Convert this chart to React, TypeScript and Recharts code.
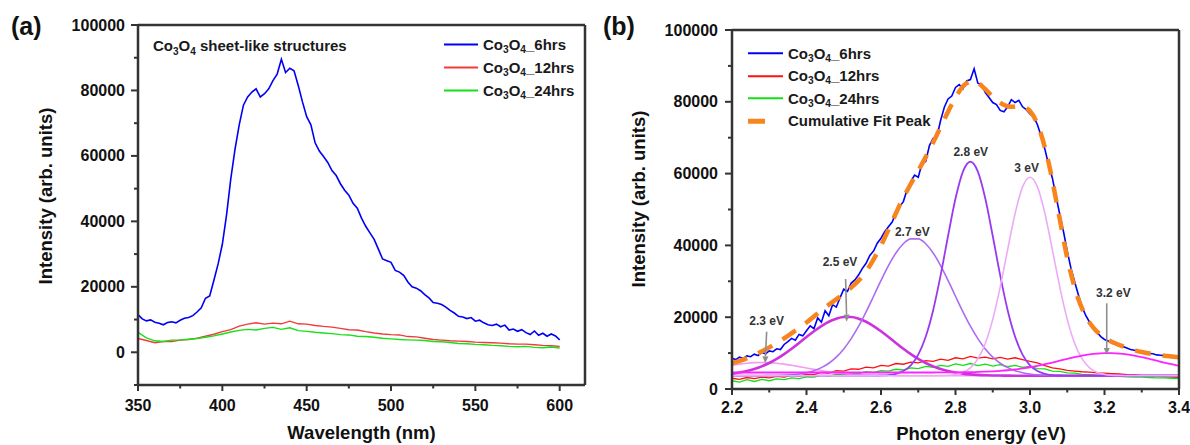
import { LineChart, Line, XAxis, YAxis, ReferenceDot, ReferenceLine, Legend } from 'recharts';

const FONT = '"Liberation Sans", Arial, Helvetica, sans-serif';
const INK = '#333333';

// ---------- panel (a): PL spectra vs wavelength ----------
const wlFine = [
  350, 352.5, 355, 357.5, 360, 362.5, 365, 367.5, 370, 372.5,
  375, 377.5, 380, 382.5, 385, 387.5, 390, 392.5, 395, 397.5,
  400, 402.5, 405, 407.5, 410, 412.5, 415, 417.5, 420, 422.5,
  425, 427.5, 430, 432.5, 435, 437.5, 440, 442.5, 445, 447.5,
  450, 452.5, 455, 457.5, 460, 462.5, 465, 467.5, 470, 472.5,
  475, 477.5, 480, 482.5, 485, 487.5, 490, 492.5, 495, 497.5,
  500, 502.5, 505, 507.5, 510, 512.5, 515, 517.5, 520, 522.5,
  525, 527.5, 530, 532.5, 535, 537.5, 540, 542.5, 545, 547.5,
  550, 552.5, 555, 557.5, 560, 562.5, 565, 567.5, 570, 572.5,
  575, 577.5, 580, 582.5, 585, 587.5, 590, 592.5, 595, 597.5,
  600,
];
const pl6hrs = [
  11500, 10200, 9600, 9900, 9200, 8900, 8400, 9100, 9300, 9000,
  9800, 10400, 10600, 11200, 12300, 13600, 16500, 17200, 22000, 27000,
  33000, 42000, 53000, 62000, 69500, 75500, 78000, 79500, 80500, 78000,
  79000, 80500, 83000, 85000, 89500, 85500, 86800, 86000, 81500, 76500,
  72000, 69500, 64000, 61500, 59800, 58000, 55500, 54000, 51500, 49500,
  48000, 45500, 44000, 41000, 38500, 36500, 34500, 31500, 28500, 28000,
  27500, 25000, 24500, 23500, 21500, 20000, 19600, 18800, 17600, 16600,
  15200, 15000, 14600, 13800, 12800, 12000, 11000, 10800, 10300, 10600,
  9500, 9800, 9000, 8400, 8200, 8600, 7800, 8300, 6800, 7100,
  6400, 6900, 6000, 5400, 6500, 5200, 5800, 4900, 5600, 5000,
  3800,
];
const wlCoarse = [
  350, 355, 360, 365, 370, 375, 380, 385, 390, 395,
  400, 405, 410, 415, 420, 425, 430, 435, 440, 445,
  450, 455, 460, 465, 470, 475, 480, 485, 490, 495,
  500, 505, 510, 515, 520, 525, 530, 535, 540, 545,
  550, 555, 560, 565, 570, 575, 580, 585, 590, 595,
  600,
];
const pl12hrs = [
  4200, 3600, 2900, 3300, 3300, 3700, 3900, 4300, 4900, 5500,
  6300, 6900, 8000, 8600, 9000, 8600, 8900, 8700, 9500, 8700,
  8600, 8200, 7900, 7700, 7300, 6900, 6800, 6300, 5900, 5600,
  5400, 5300, 4800, 4700, 4300, 3900, 3700, 3500, 3400, 3300,
  3100, 3000, 2900, 2800, 2600, 2500, 2500, 2300, 2100, 2000,
  1800,
];
const pl24hrs = [
  6100, 4400, 3500, 3300, 3700, 3800, 4000, 4200, 4600, 5000,
  5600, 6200, 6700, 7000, 6800, 7300, 7600, 7000, 7500, 6600,
  6400, 6100, 5900, 5700, 5400, 5300, 4900, 4800, 4600, 4300,
  4100, 3900, 3800, 3700, 3600, 3300, 3200, 3000, 2700, 2600,
  2400, 2300, 2100, 2000, 1800, 1700, 1800, 1500, 1400, 1600,
  1300,
];

// ---------- panel (b): photon energy + gaussian deconvolution ----------
const evFine = [
  2.2, 2.21, 2.22, 2.23, 2.24, 2.25, 2.26, 2.27, 2.28, 2.29,
  2.3, 2.31, 2.32, 2.33, 2.34, 2.35, 2.36, 2.37, 2.38, 2.39,
  2.4, 2.41, 2.42, 2.43, 2.44, 2.45, 2.46, 2.47, 2.48, 2.49,
  2.5, 2.51, 2.52, 2.53, 2.54, 2.55, 2.56, 2.57, 2.58, 2.59,
  2.6, 2.61, 2.62, 2.63, 2.64, 2.65, 2.66, 2.67, 2.68, 2.69,
  2.7, 2.71, 2.72, 2.73, 2.74, 2.75, 2.76, 2.77, 2.78, 2.79,
  2.8, 2.81, 2.82, 2.83, 2.84, 2.85, 2.86, 2.87, 2.88, 2.89,
  2.9, 2.91, 2.92, 2.93, 2.94, 2.95, 2.96, 2.97, 2.98, 2.99,
  3.0, 3.01, 3.02, 3.03, 3.04, 3.05, 3.06, 3.07, 3.08, 3.09,
  3.1, 3.11, 3.12, 3.13, 3.14, 3.15, 3.16, 3.17, 3.18, 3.19,
  3.2, 3.21, 3.22, 3.23, 3.24, 3.25, 3.26, 3.27, 3.28, 3.29,
  3.3, 3.31, 3.32, 3.33, 3.34, 3.35, 3.36, 3.37, 3.38, 3.39,
  3.4,
];
const ev6hrs = [
  8600, 8200, 8900, 8500, 9200, 9000, 9700, 9300, 10200, 9800,
  10600, 10400, 11200, 11000, 12400, 13200, 14100, 13600, 15200, 14800,
  16200, 17600, 16800, 19800, 18600, 21800, 20400, 23500, 22800, 25400,
  27800, 27200, 29500, 30400, 31800, 33600, 35000, 37200, 38400, 40600,
  42000, 43800, 45200, 46500, 49000, 50800, 52200, 55500, 57800, 59600,
  59000, 62800, 63400, 67800, 69800, 70200, 74800, 78500, 80800, 81600,
  84000, 84800, 83600, 85800, 86200, 89200, 85200, 84800, 82600, 81200,
  79800, 79200, 77600, 77200, 78600, 80600, 79800, 80400, 78600, 77800,
  76600, 75800, 73600, 70400, 66800, 62400, 58800, 53600, 48600, 43800,
  38400, 33600, 29800, 26200, 22800, 20400, 18600, 16800, 15800, 14600,
  13800, 13400, 12800, 12400, 11900, 11800, 11400, 11000, 10800, 10600,
  10200, 10000, 9900, 9800, 9500, 9400, 9300, 9200, 9000, 9000,
  8900,
];
const evCoarse = [
  2.2, 2.22, 2.24, 2.26, 2.28, 2.3, 2.32, 2.34, 2.36, 2.38,
  2.4, 2.42, 2.44, 2.46, 2.48, 2.5, 2.52, 2.54, 2.56, 2.58,
  2.6, 2.62, 2.64, 2.66, 2.68, 2.7, 2.72, 2.74, 2.76, 2.78,
  2.8, 2.82, 2.84, 2.86, 2.88, 2.9, 2.92, 2.94, 2.96, 2.98,
  3.0, 3.02, 3.04, 3.06, 3.08, 3.1, 3.12, 3.14, 3.16, 3.18,
  3.2, 3.22, 3.24, 3.26, 3.28, 3.3, 3.32, 3.34, 3.36, 3.38,
  3.4,
];
const ev12hrs = [
  3000, 2700, 3200, 2900, 3300, 3100, 3500, 3300, 3800, 3600,
  4100, 4000, 4600, 4400, 5100, 5000, 5600, 5500, 6100, 5900,
  6600, 6400, 7100, 6900, 7500, 7300, 7900, 7700, 8300, 8000,
  8700, 8400, 9100, 8600, 8900, 8400, 8800, 8300, 8700, 8200,
  7700, 7300, 6500, 5900, 5600, 5200, 5000, 4800, 4700, 4500,
  4400, 4300, 4200, 4000, 3900, 3700, 3600, 3500, 3400, 3300,
  3200,
];
const ev24hrs = [
  2300, 1900, 2600, 2100, 2700, 2300, 2800, 2600, 3100, 2900,
  3400, 3300, 3800, 3600, 4100, 4000, 4400, 4300, 4800, 4600,
  5100, 5000, 5500, 5300, 5900, 5700, 6300, 6000, 6600, 6300,
  7000, 6600, 7100, 6500, 6900, 6400, 6800, 6200, 6600, 6000,
  6300, 5700, 5600, 5000, 4900, 4500, 4400, 4100, 4000, 3800,
  3700, 3600, 3500, 3400, 3300, 3300, 3200, 3100, 3100, 3000,
  2900,
];
// fitted gaussian components, sampled on evCoarse
const peak23 = [
  6600, 6930, 7180, 7345, 7400, 7345, 7180, 6930, 6600, 6240,
  5850, 5460, 5110, 4790, 4510, 4290, 4120, 3990, 3890, 3820,
  3780, 3750, 3730, 3715, 3700, 3700, 3700, 3700, 3700, 3700,
  3700, 3700, 3700, 3700, 3700, 3700, 3700, 3700, 3700, 3700,
  3700, 3700, 3700, 3700, 3700, 3700, 3700, 3700, 3700, 3700,
  3700, 3700, 3700, 3700, 3700, 3700, 3700, 3700, 3700, 3700,
  3700,
];
const peak25 = [
  4280, 4590, 5010, 5570, 6310, 7240, 8380, 9710, 11210, 12820,
  14480, 16080, 17540, 18740, 19590, 20040, 20040, 19590, 18740, 17540,
  16080, 14480, 12820, 11210, 9710, 8380, 7240, 6310, 5570, 5010,
  4590, 4280, 4070, 3930, 3840, 3780, 3750, 3720, 3700, 3700,
  3700, 3700, 3700, 3700, 3700, 3700, 3700, 3700, 3700, 3700,
  3700, 3700, 3700, 3700, 3700, 3700, 3700, 3700, 3700, 3700,
  3700,
];
const peak27 = [
  3700, 3700, 3700, 3700, 3700, 3740, 3780, 3850, 3975, 4190,
  4550, 5100, 5950, 7180, 8870, 11150, 14030, 17500, 21510, 25830,
  30240, 34380, 37900, 40470, 41830, 41830, 40470, 37900, 34380, 30240,
  25830, 21510, 17500, 14030, 11150, 8870, 7180, 5950, 5100, 4550,
  4190, 3975, 3850, 3780, 3740, 3700, 3700, 3700, 3700, 3700,
  3700, 3700, 3700, 3700, 3700, 3700, 3700, 3700, 3700, 3700,
  3700,
];
const peak28 = [
  3700, 3700, 3700, 3700, 3700, 3700, 3700, 3700, 3700, 3700,
  3700, 3700, 3700, 3700, 3700, 3700, 3700, 3700, 3700, 3700,
  3770, 3890, 4230, 4990, 6580, 9560, 14550, 21950, 31650, 42620,
  53050, 60560, 63300, 60560, 53050, 42620, 31650, 21950, 14550, 9560,
  6580, 4990, 4230, 3890, 3770, 3700, 3700, 3700, 3700, 3700,
  3700, 3700, 3700, 3700, 3700, 3700, 3700, 3700, 3700, 3700,
  3700,
];
const peak30 = [
  3700, 3700, 3700, 3700, 3700, 3700, 3700, 3700, 3700, 3700,
  3700, 3700, 3700, 3700, 3700, 3700, 3700, 3700, 3700, 3700,
  3700, 3700, 3700, 3700, 3700, 3700, 3700, 3700, 3740, 3830,
  4060, 4630, 5900, 8380, 12700, 19400, 28400, 38820, 48900, 56300,
  59000, 56300, 48900, 38820, 28400, 19400, 12700, 8380, 5900, 4630,
  4060, 3830, 3740, 3700, 3700, 3700, 3700, 3700, 3700, 3700,
  3700,
];
const peak32 = [
  4600, 4600, 4600, 4600, 4600, 4600, 4600, 4600, 4600, 4600,
  4600, 4600, 4600, 4600, 4600, 4600, 4600, 4600, 4600, 4600,
  4600, 4600, 4600, 4600, 4600, 4600, 4600, 4600, 4610, 4620,
  4640, 4660, 4695, 4745, 4815, 4915, 5050, 5225, 5450, 5730,
  6060, 6460, 6900, 7380, 7880, 8370, 8850, 9270, 9615, 9860,
  9985, 9985, 9860, 9615, 9270, 8850, 8370, 7880, 7380, 6900,
  6460,
];
const evFit = [
  2.2, 2.225, 2.25, 2.275, 2.3, 2.325, 2.35, 2.375, 2.4, 2.425,
  2.45, 2.475, 2.5, 2.525, 2.55, 2.575, 2.6, 2.625, 2.65, 2.675,
  2.7, 2.725, 2.75, 2.775, 2.8, 2.825, 2.85, 2.875, 2.9, 2.925,
  2.95, 2.975, 3.0, 3.025, 3.05, 3.075, 3.1, 3.125, 3.15, 3.175,
  3.2, 3.225, 3.25, 3.275, 3.3, 3.325, 3.35, 3.375, 3.4,
];
const fitCurve = [
  7200, 8000, 9000, 10200, 11600, 13100, 14800, 16600, 18500, 20600,
  22700, 24600, 26500, 28700, 31400, 35200, 40000, 45500, 51200, 56200,
  60800, 65600, 70800, 76200, 81200, 84800, 85800, 84000, 81400, 79400,
  78600, 78800, 77400, 72400, 63000, 50000, 36500, 26500, 20200, 16500,
  14300, 12900, 11900, 11000, 10300, 9800, 9400, 9100, 8800,
];

// peak annotations (label centre, data coords)
const peakNames = ['2.3 eV', '2.5 eV', '2.7 eV', '2.8 eV', '3 eV', '3.2 eV'];
const peakLabelX = [2.293, 2.49, 2.684, 2.841, 2.991, 3.224];
const peakLabelY = [19000, 35300, 43800, 66100, 61600, 26800];
const arrowSegs = [
  [[2.293, 15960], [2.289, 7160]],
  [[2.505, 30640], [2.508, 18750]],
  [[3.206, 23870], [3.206, 9470]],
];

const yTicksA = [-10000, 0, 10000, 20000, 30000, 40000, 50000, 60000, 70000, 80000, 90000, 100000];
const xTicksA = [350, 375, 400, 425, 450, 475, 500, 525, 550, 575, 600];
const yTicksB = [0, 10000, 20000, 30000, 40000, 50000, 60000, 70000, 80000, 90000, 100000];
const xTicksB = [2.2, 2.3, 2.4, 2.5, 2.6, 2.7, 2.8, 2.9, 3.0, 3.1, 3.2, 3.3, 3.4];

const mkPts = (xs: number[], ys: number[]) => xs.map((x, i) => ({ x, v: ys[i] }));

const LEGEND_ORDER = ['Co3O4_6hrs', 'Co3O4_12hrs', 'Co3O4_24hrs', 'Cumulative Fit Peak'];

function ChemText({ text }: { text: string }) {
  if (!text.startsWith('Co3O4')) return <span>{text}</span>;
  const sub = { fontSize: '0.68em', position: 'relative' as const, top: '0.3em' };
  return (
    <span>
      Co<span style={sub}>3</span>O<span style={sub}>4</span>
      {text.slice(5)}
    </span>
  );
}

function legendContent(rowH: number, lineLen: number, boxW: number) {
  return (props: any) => {
    const items = (props.payload || [])
      .filter((it: any) => LEGEND_ORDER.includes(it.value))
      .sort((a: any, b: any) => LEGEND_ORDER.indexOf(a.value) - LEGEND_ORDER.indexOf(b.value));
    return (
      <div style={{ fontFamily: FONT, fontWeight: 700, fontSize: 15, color: '#1a1a1a' }}>
        {items.map((it: any) => (
          <div key={it.value} style={{ display: 'flex', alignItems: 'center', height: rowH, whiteSpace: 'nowrap' }}>
            <svg width={boxW} height={rowH} style={{ flex: 'none' }}>
              {it.value === 'Cumulative Fit Peak' ? (
                <line x1={0} x2={17} y1={rowH / 2} y2={rowH / 2} stroke={it.color} strokeWidth={5} />
              ) : (
                <line x1={0} x2={lineLen} y1={rowH / 2} y2={rowH / 2} stroke={it.color} strokeWidth={2} />
              )}
            </svg>
            <ChemText text={it.value} />
          </div>
        ))}
      </div>
    );
  };
}

// tickSize 6 + tickMargin 3 => axis is 9px from the tick anchor
function yTick(isMajor: (v: number) => boolean, gap: number) {
  return (p: any) => {
    const ax = p.x + 9;
    const v = p.payload.value;
    const major = isMajor(v);
    const len = major ? 7 : 4;
    return (
      <g>
        <line x1={ax - len} x2={ax} y1={p.y} y2={p.y} stroke={INK} strokeWidth={2} />
        {major && (
          <text x={ax - gap} y={p.y} textAnchor="end" dominantBaseline="central"
            fontFamily={FONT} fontWeight={700} fontSize={16} fill="#111">{v}</text>
        )}
      </g>
    );
  };
}

function xTick(isMajor: (v: number) => boolean, fmt: (v: number) => string, dy: number) {
  return (p: any) => {
    const ay = p.y - 9;
    const v = p.payload.value;
    const major = isMajor(v);
    return (
      <g>
        <line x1={p.x} x2={p.x} y1={ay} y2={ay + (major ? 6 : 3.5)} stroke={INK} strokeWidth={2} />
        {major && (
          <text x={p.x} y={ay + dy} textAnchor="middle" dominantBaseline="central"
            fontFamily={FONT} fontWeight={700} fontSize={16} fill="#111">{fmt(v)}</text>
        )}
      </g>
    );
  };
}

const arrowShape = (p: any) => {
  const { x1, y1, x2, y2 } = p;
  const ang = Math.atan2(y2 - y1, x2 - x1);
  const L = 7, W = 3;
  const bx = x2 - L * Math.cos(ang), by = y2 - L * Math.sin(ang);
  const px = -Math.sin(ang) * W, py = Math.cos(ang) * W;
  return (
    <g>
      <line x1={x1} y1={y1} x2={bx} y2={by} stroke="#8e8e8e" strokeWidth={1.6} />
      <polygon points={`${x2},${y2} ${bx + px},${by + py} ${bx - px},${by - py}`} fill="#8e8e8e" />
    </g>
  );
};

const axisInk = { stroke: INK, strokeWidth: 2.5 };

function PanelA() {
  return (
    <LineChart width={600} height={445} margin={{ top: 25, right: 15, bottom: 0, left: 0 }}
      style={{ position: 'absolute', left: 0, top: 0 }}>
      <XAxis type="number" dataKey="x" domain={[350, 615]} ticks={xTicksA} interval={0} allowDataOverflow
        tick={xTick((v) => v % 50 === 0, (v) => String(v), 20)} tickLine={false} axisLine={axisInk}
        tickSize={6} tickMargin={3} height={60} />
      <YAxis type="number" domain={[-10000, 100000]} ticks={yTicksA} interval={0} allowDataOverflow
        tick={yTick((v) => v >= 0 && v % 20000 === 0, 13)} tickLine={false} axisLine={axisInk}
        tickSize={6} tickMargin={3} width={138} />
      <Line data={mkPts(wlCoarse, pl12hrs)} dataKey="v" name="Co3O4_12hrs" stroke="#f23a3a" strokeWidth={1.4}
        dot={false} activeDot={false} isAnimationActive={false} type="linear" />
      <Line data={mkPts(wlCoarse, pl24hrs)} dataKey="v" name="Co3O4_24hrs" stroke="#16e016" strokeWidth={1.4}
        dot={false} activeDot={false} isAnimationActive={false} type="linear" />
      <Line data={mkPts(wlFine, pl6hrs)} dataKey="v" name="Co3O4_6hrs" stroke="#0000f5" strokeWidth={1.6}
        dot={false} activeDot={false} isAnimationActive={false} type="linear" />
      <ReferenceLine x={615} stroke={INK} strokeWidth={2.5} ifOverflow="visible" />
      <ReferenceLine y={100000} stroke={INK} strokeWidth={2.5} ifOverflow="visible" />
      <Legend layout="vertical" align="center" verticalAlign="middle"
        wrapperStyle={{ left: 444, top: 33, width: 150 }} content={legendContent(23, 34, 39)} />
    </LineChart>
  );
}

const compColors = ['#f39cf3', '#cc33dd', '#ad6cf0', '#9a3af0', '#ecaaf8', '#ff22ff'];
const compWidths = [1.6, 2.6, 1.6, 1.8, 1.6, 1.8];
const comps = [peak23, peak25, peak27, peak28, peak30, peak32];

function PanelB() {
  return (
    <LineChart width={595} height={445} margin={{ top: 30, right: 11, bottom: 0, left: 0 }}
      style={{ position: 'absolute', left: 595, top: 0 }}>
      <XAxis type="number" dataKey="x" domain={[2.2, 3.4]} ticks={xTicksB} interval={0} allowDataOverflow
        tick={xTick((v) => Math.round(v * 10) % 2 === 0, (v) => v.toFixed(1), 18)} tickLine={false} axisLine={axisInk}
        tickSize={6} tickMargin={3} height={56} />
      <YAxis type="number" domain={[0, 100000]} ticks={yTicksB} interval={0} allowDataOverflow
        tick={yTick((v) => v % 20000 === 0, 14)} tickLine={false} axisLine={axisInk}
        tickSize={6} tickMargin={3} width={137} />
      <Line data={mkPts(evFine, ev6hrs)} dataKey="v" name="Co3O4_6hrs" stroke="#0000f5" strokeWidth={1.6}
        dot={false} activeDot={false} isAnimationActive={false} type="linear" />
      <Line data={mkPts(evCoarse, ev12hrs)} dataKey="v" name="Co3O4_12hrs" stroke="#ff1010" strokeWidth={1.3}
        dot={false} activeDot={false} isAnimationActive={false} type="linear" />
      <Line data={mkPts(evCoarse, ev24hrs)} dataKey="v" name="Co3O4_24hrs" stroke="#12e012" strokeWidth={1.3}
        dot={false} activeDot={false} isAnimationActive={false} type="linear" />
      {comps.map((c, i) => (
        <Line key={peakNames[i]} data={mkPts(evCoarse, c)} dataKey="v" name={peakNames[i]} legendType="none"
          stroke={compColors[i]} strokeWidth={compWidths[i]} dot={false} activeDot={false}
          isAnimationActive={false} type="monotone" />
      ))}
      <Line data={mkPts(evFit, fitCurve)} dataKey="v" name="Cumulative Fit Peak" stroke="#f7841c" strokeWidth={4.5}
        strokeDasharray="16 12" dot={false} activeDot={false} isAnimationActive={false} type="monotone" />
      {arrowSegs.map((s, i) => (
        <ReferenceLine key={i} segment={[{ x: s[0][0], y: s[0][1] }, { x: s[1][0], y: s[1][1] }]} shape={arrowShape} />
      ))}
      {peakNames.map((t, i) => (
        <ReferenceDot key={t} x={peakLabelX[i]} y={peakLabelY[i]} r={1}
          shape={(p: any) => (
            <text x={p.cx} y={p.cy} textAnchor="middle" dominantBaseline="central"
              fontFamily={FONT} fontWeight={700} fontSize={12} fill="#333">{t}</text>
          )} />
      ))}
      <ReferenceLine x={3.4} stroke={INK} strokeWidth={2.5} ifOverflow="visible" />
      <ReferenceLine y={100000} stroke={INK} strokeWidth={2.5} ifOverflow="visible" />
      <Legend layout="vertical" align="center" verticalAlign="middle"
        wrapperStyle={{ left: 153, top: 42, width: 200 }} content={legendContent(22.5, 35, 40)} />
    </LineChart>
  );
}

export default function App() {
  const title = { fontFamily: FONT, fontWeight: 700, fontSize: 18.5, fill: '#111' };
  return (
    <div style={{ position: 'absolute', left: 0, top: 0, width: 1190, height: 445, background: '#fff', overflow: 'hidden' }}>
      <PanelA />
      <PanelB />
      <svg width={1190} height={445} style={{ position: 'absolute', left: 0, top: 0, pointerEvents: 'none' }}>
        <text x={11} y={35} fontFamily={FONT} fontWeight={700} fontSize={25} fill="#111">(a)</text>
        <text x={603} y={35} fontFamily={FONT} fontWeight={700} fontSize={25} fill="#111">(b)</text>
        <text x={153} y={51} fontFamily={FONT} fontWeight={700} fontSize={15} fill="#1a1a1a">
          Co<tspan fontSize={10} dy={3.5}>3</tspan><tspan dy={-3.5}>O</tspan><tspan fontSize={10} dy={3.5}>4</tspan>
          <tspan dy={-3.5}> sheet-like structures</tspan>
        </text>
        <text x={361.5} y={439} textAnchor="middle" {...title}>Wavelength (nm)</text>
        <text x={981} y={440} textAnchor="middle" {...title}>Photon energy (eV)</text>
        <text transform="translate(45,196) rotate(-90)" textAnchor="middle" dominantBaseline="central" {...title}>
          Intensity (arb. units)
        </text>
        <text transform="translate(638,199) rotate(-90)" textAnchor="middle" dominantBaseline="central" {...title}>
          Intensity (arb. units)
        </text>
      </svg>
    </div>
  );
}
